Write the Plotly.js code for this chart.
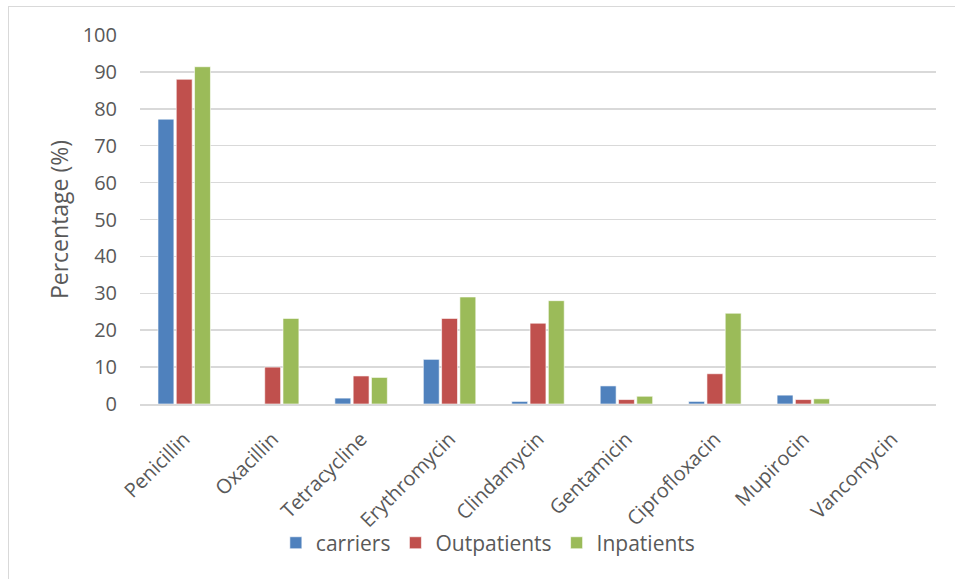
<!DOCTYPE html>
<html>
<head>
<meta charset="utf-8">
<script src="https://cdn.plot.ly/plotly-3.0.1.min.js"></script>
<style>
  html, body { margin: 0; padding: 0; background: #fff; }
  #frame { position: absolute; left: 8px; top: 6px; width: 960px; height: 600px;
           border-left: 1px solid #d9d9d9; border-top: 1px solid #d9d9d9; }
  #chart { position: absolute; left: 0; top: 0; width: 955px; height: 579px; }
</style>
</head>
<body>
<div id="frame"></div>
<div id="chart"></div>
<script>
// Antibiotic resistance rates (%) by group
const antibiotics = ["Penicillin", "Oxacillin", "Tetracycline", "Erythromycin",
  "Clindamycin", "Gentamicin", "Ciprofloxacin", "Mupirocin", "Vancomycin"];
const carriers    = [77.2, 0,    1.6, 12.1, 0.7, 4.9, 0.7, 2.4, 0];
const outpatients = [88.0, 10.0, 7.6, 23.2, 21.9, 1.2, 8.2, 1.2, 0];
const inpatients  = [91.4, 23.2, 7.2, 29.0, 28.0, 2.1, 24.6, 1.4, 0];
const yTicks = [0, 10, 20, 30, 40, 50, 60, 70, 80, 90, 100];

const textColor = "#595959";
const fontFamily = "'Open Sans', 'Noto Sans', sans-serif";

function series(name, values, color) {
  return {
    type: "bar", name: name, x: antibiotics, y: values,
    marker: { color: color, line: { color: "rgba(255,255,255,0.6)", width: 1 } },
    hoverinfo: "x+y+name"
  };
}

const data = [
  series("carriers", carriers, "#4F81BD"),
  series("Outpatients", outpatients, "#C0504D"),
  series("Inpatients", inpatients, "#9BBB59")
];

const layout = {
  width: 955, height: 579,
  margin: { l: 140, r: 19, t: 35, b: 175 },
  paper_bgcolor: "rgba(0,0,0,0)", plot_bgcolor: "rgba(0,0,0,0)",
  font: { family: fontFamily, size: 20, color: textColor },
  barmode: "group", bargap: 0.38, bargroupgap: 0.13,
  showlegend: true,
  legend: {
    orientation: "h", x: 0.437, xanchor: "center", y: -0.377, yanchor: "middle",
    font: { family: fontFamily, size: 21, color: textColor },
    itemwidth: 30, traceorder: "normal"
  },
  xaxis: {
    type: "category", tickangle: -45, showgrid: false,
    showline: true, linecolor: "#d9d9d9", linewidth: 1.5,
    ticks: "", ticklabelstandoff: 14,
    tickfont: { family: fontFamily, size: 20, color: textColor },
    automargin: false, fixedrange: true
  },
  yaxis: {
    range: [0, 100], tickvals: yTicks, ticktext: yTicks.map(String),
    showgrid: true, gridcolor: "#d9d9d9", gridwidth: 1.5,
    zeroline: false, showline: false, ticks: "", ticklabelstandoff: 22,
    tickfont: { family: fontFamily, size: 20, color: textColor },
    title: { text: "Percentage (%)", standoff: 7,
             font: { family: fontFamily, size: 23, color: textColor } },
    automargin: false, fixedrange: true
  }
};

Plotly.newPlot("chart", data, layout, { displayModeBar: false, staticPlot: true });
</script>
</body>
</html>
